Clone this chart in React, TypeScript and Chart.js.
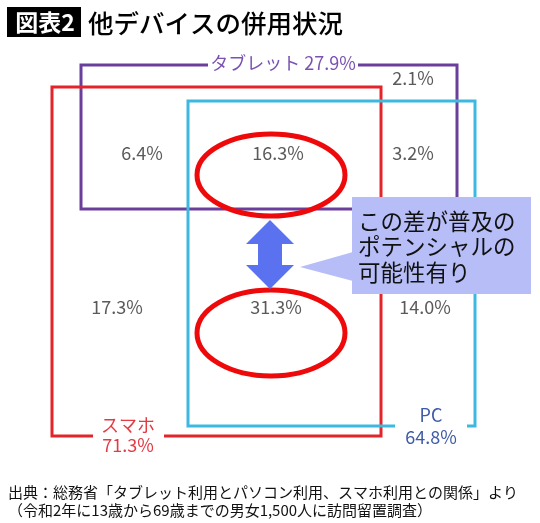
import React, { useEffect, useRef } from "react";
import { Chart, registerables } from "chart.js";

Chart.register(...registerables);

// ---- data ----
const titleTag = "図表2";
const titleText = "他デバイスの併用状況";
const deviceNames = ["タブレット", "スマホ", "PC"];
const deviceTotals = [27.9, 71.3, 64.8];
// regions: tablet only, tablet+phone, all three, tablet+pc, phone only, phone+pc, pc only
const regionNames = ["タブレットのみ", "タブレット・スマホ", "3機器", "タブレット・PC", "スマホのみ", "スマホ・PC", "PCのみ"];
const regionValues = [2.1, 6.4, 16.3, 3.2, 17.3, 31.3, 14.0];
const calloutLines = ["この差が普及の", "ポテンシャルの", "可能性有り"];
const sourceLines = [
  "出典：総務省「タブレット利用とパソコン利用、スマホ利用との関係」より",
  "（令和2年に13歳から69歳までの男女1,500人に訪問留置調査）",
];

const JP = '"Noto Sans CJK JP", "Noto Sans", sans-serif';

const pct = (v: number) => v.toFixed(1) + "%";

const vennPlugin = {
  id: "venn",
  afterDraw(chart: any) {
    const ctx: CanvasRenderingContext2D = chart.ctx;
    const xs = chart.scales.x;
    const ys = chart.scales.y;
    const X = (v: number) => xs.getPixelForValue(v);
    const Y = (v: number) => ys.getPixelForValue(v);

    ctx.save();

    // title
    ctx.fillStyle = "#000";
    ctx.fillRect(X(7), Y(7), X(81) - X(7), Y(37) - Y(7));
    ctx.fillStyle = "#fff";
    ctx.font = `bold 23px ${JP}`;
    ctx.textAlign = "center";
    ctx.textBaseline = "middle";
    ctx.fillText(titleTag, X(45), Y(22.5));
    ctx.fillStyle = "#000";
    ctx.textAlign = "left";
    ctx.font = `500 25.5px ${JP}`;
    ctx.fillText(titleText, X(88), Y(23));

    const rect = (x0: number, y0: number, x1: number, y1: number, color: string) => {
      ctx.strokeStyle = color;
      ctx.lineWidth = 3;
      ctx.strokeRect(X(x0), Y(y0), X(x1) - X(x0), Y(y1) - Y(y0));
    };
    const gap = (x0: number, y0: number, x1: number, y1: number) => {
      ctx.fillStyle = "#fff";
      ctx.fillRect(X(x0), Y(y0), X(x1) - X(x0), Y(y1) - Y(y0));
    };

    // sets
    rect(81, 65, 457, 209, "#6a3f9c"); // tablet
    rect(52, 87, 381, 436, "#e3242b"); // phone
    rect(188, 101, 475, 426, "#3db8e0"); // pc

    // set labels
    ctx.textAlign = "center";
    ctx.textBaseline = "middle";
    gap(208, 58, 358, 72);
    ctx.fillStyle = "#7a52b3";
    ctx.font = `18px ${JP}`;
    ctx.fillText(`${deviceNames[0]} ${pct(deviceTotals[0])}`, X(283), Y(63));

    gap(93, 430, 164, 442);
    ctx.fillStyle = "#e33a44";
    ctx.fillText(deviceNames[1], X(128), Y(425));
    ctx.fillText(pct(deviceTotals[1]), X(128), Y(445));

    gap(395, 420, 467, 432);
    ctx.fillStyle = "#3e5aa8";
    ctx.fillText(deviceNames[2], X(431), Y(415));
    ctx.fillText(pct(deviceTotals[2]), X(431), Y(437));

    // region values
    const regionPos = [
      [413, 78],
      [142, 153],
      [278, 153],
      [413, 153],
      [117, 307],
      [276, 307],
      [425, 307],
    ];
    ctx.fillStyle = "#5a5a5a";
    ctx.font = `18px ${JP}`;
    regionValues.forEach((v, i) => {
      ctx.fillText(pct(v), X(regionPos[i][0]), Y(regionPos[i][1]));
    });

    // ellipses
    ctx.strokeStyle = "#ee0a0a";
    ctx.lineWidth = 5;
    const ell = (cx: number, cy: number, rx: number, ry: number) => {
      ctx.beginPath();
      ctx.ellipse(X(cx), Y(cy), X(cx + rx) - X(cx), Y(cy + ry) - Y(cy), 0, 0, Math.PI * 2);
      ctx.stroke();
    };
    ell(271, 175, 74, 41);
    ell(271, 333, 74, 43);

    // callout box
    ctx.fillStyle = "#b6bdf7";
    ctx.fillRect(X(352), Y(197), X(531) - X(352), Y(294) - Y(197));
    ctx.beginPath();
    ctx.moveTo(X(353), Y(252));
    ctx.lineTo(X(300), Y(267));
    ctx.lineTo(X(353), Y(281));
    ctx.closePath();
    ctx.fill();
    ctx.fillStyle = "#111";
    ctx.textAlign = "left";
    ctx.font = `22.5px ${JP}`;
    calloutLines.forEach((t, i) => {
      ctx.fillText(t, X(358), Y(221 + i * 25.5));
    });

    // double arrow
    ctx.fillStyle = "#5a72ef";
    const pts = [
      [270, 220], [294, 244], [282, 244], [282, 265], [294, 265], [270, 289],
      [246, 265], [258, 265], [258, 244], [246, 244],
    ];
    ctx.beginPath();
    pts.forEach((p, i) => (i === 0 ? ctx.moveTo(X(p[0]), Y(p[1])) : ctx.lineTo(X(p[0]), Y(p[1]))));
    ctx.closePath();
    ctx.fill();

    // source
    ctx.fillStyle = "#111";
    ctx.font = `15px ${JP}`;
    ctx.textAlign = "left";
    sourceLines.forEach((t, i) => {
      ctx.fillText(t, X(8), Y(492 + i * 18));
    });

    ctx.restore();
  },
};

const bgPlugin = {
  id: "bg",
  beforeDraw(chart: any) {
    const ctx = chart.ctx;
    ctx.save();
    ctx.fillStyle = "#fff";
    ctx.fillRect(0, 0, chart.width, chart.height);
    ctx.restore();
  },
};

export default function App() {
  const ref = useRef<HTMLCanvasElement | null>(null);
  useEffect(() => {
    document.body.style.margin = "0";
    if (!ref.current) return;
    const chart = new Chart(ref.current, {
      type: "scatter",
      data: {
        datasets: [
          {
            label: "regions",
            data: regionNames.map(() => ({ x: -10, y: -10 })),
            pointRadius: 0,
          },
        ],
      },
      options: {
        animation: false,
        responsive: true,
        maintainAspectRatio: false,
        layout: { padding: 0 },
        plugins: { legend: { display: false }, tooltip: { enabled: false } },
        scales: {
          x: { type: "linear", min: 0, max: 540, display: false },
          y: { type: "linear", min: 0, max: 523, reverse: true, display: false },
        },
      },
      plugins: [bgPlugin, vennPlugin],
    });
    return () => chart.destroy();
  }, []);
  return (
    <div style={{ width: 540, height: 523, position: "relative" }}>
      <canvas ref={ref} />
    </div>
  );
}
